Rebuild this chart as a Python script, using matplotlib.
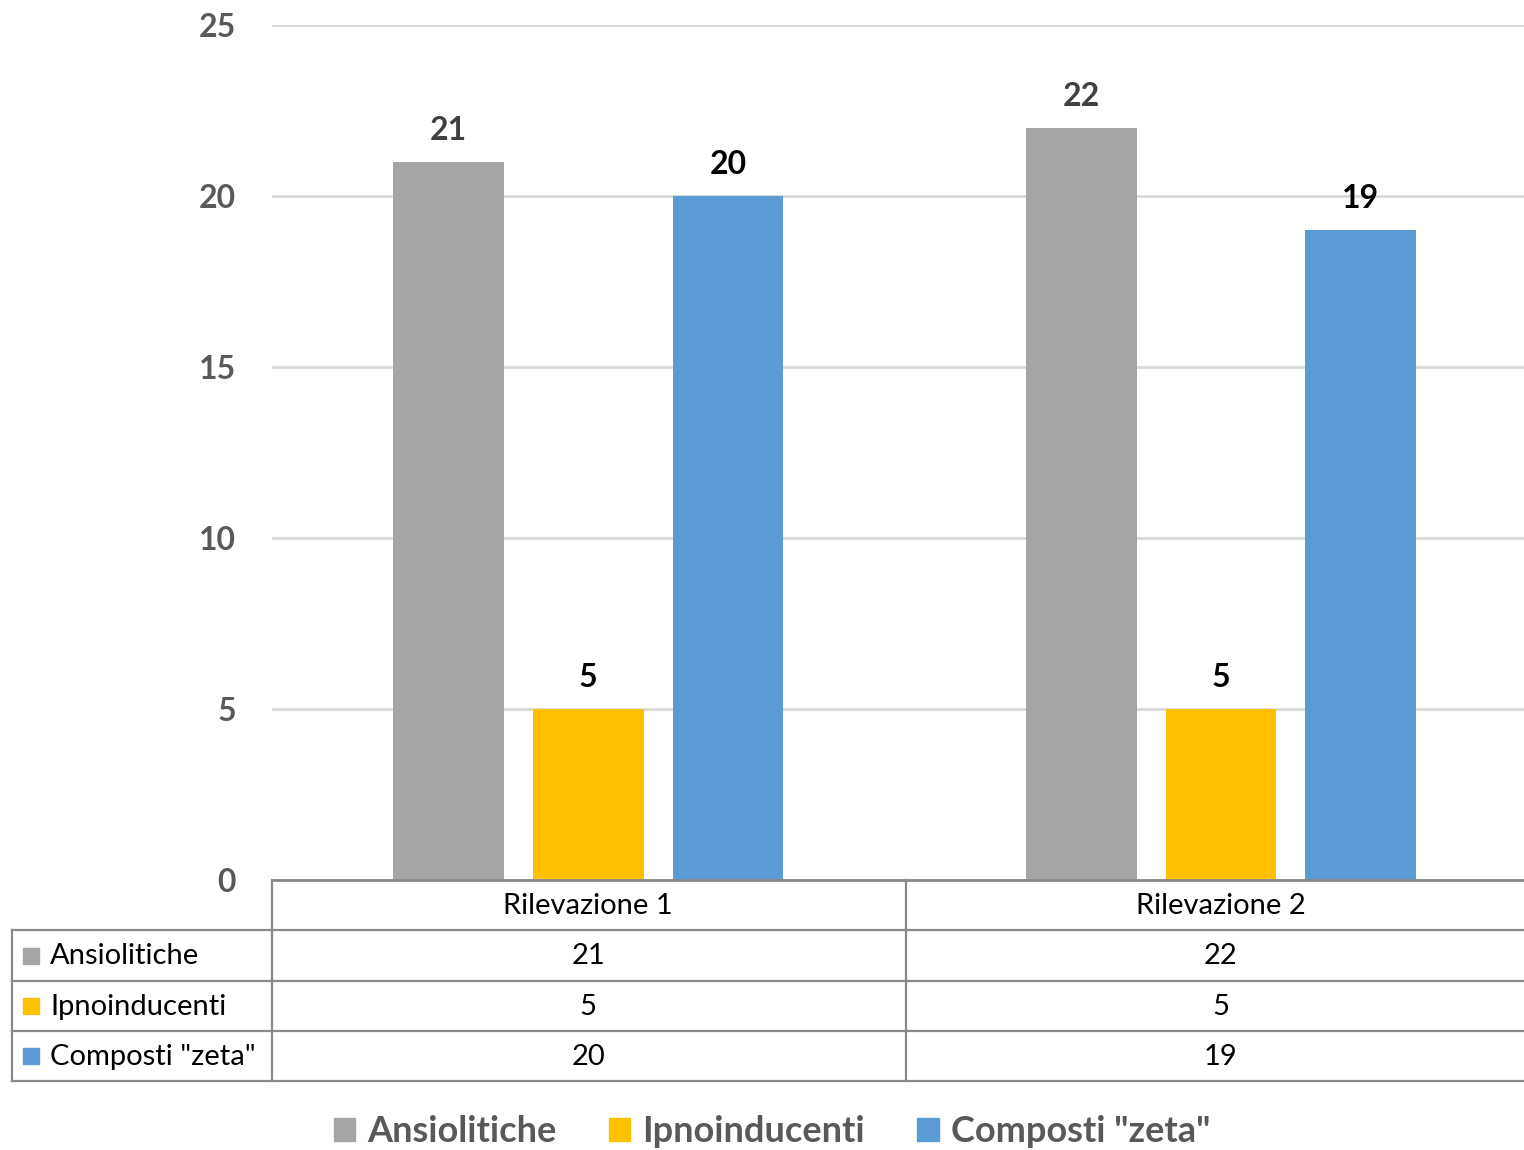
import matplotlib
matplotlib.use("Agg")
import matplotlib.pyplot as plt
from matplotlib.patches import Rectangle
from matplotlib.lines import Line2D
import matplotlib.transforms as mtransforms

plt.rcParams['font.family'] = ['Lato', 'DejaVu Sans']

categories = ["Rilevazione 1", "Rilevazione 2"]
series_names = ["Ansiolitiche", "Ipnoinducenti", 'Composti "zeta"']
ansiolitiche = [21, 22]
ipnoinducenti = [5, 5]
composti_zeta = [20, 19]
series_values = [ansiolitiche, ipnoinducenti, composti_zeta]
colors = ["#a5a5a5", "#ffc000", "#5b9bd5"]
label_colors = ["#404040", "#000000", "#000000"]
yticks = [0, 5, 10, 15, 20, 25]

W, H = 1524, 1150
fig = plt.figure(figsize=(W / 100, H / 100), dpi=100)

def fx(x):
    return x / W

def fy(y):
    return 1 - y / H

ax_left, ax_right, ax_top, ax_bot = 272, 1524, 25, 880
ax = fig.add_axes([fx(ax_left), fy(ax_bot), fx(ax_right - ax_left), fy(ax_top) - fy(ax_bot)])
ax.set_xlim(-0.5, 1.479)
ax.set_ylim(0, 25)

bw = 0.175
off = 0.221
for i, (vals, col, lc) in enumerate(zip(series_values, colors, label_colors)):
    xs = [c + (i - 1) * off for c in range(len(categories))]
    ax.bar(xs, vals, width=bw, color=col, zorder=3)
    for x, v in zip(xs, vals):
        ax.text(x, v + 0.5, str(v), ha="center", va="bottom", fontsize=23,
                fontweight="bold", color=lc, zorder=4)

ax.set_yticks(yticks)
ax.set_yticklabels([str(t) for t in yticks], fontsize=23, fontweight="bold", color="#595959")
ax.tick_params(axis="y", length=0, pad=26)
ax.set_xticks([])
ax.grid(axis="y", color="#d9d9d9", linewidth=2, zorder=0)
for s in ["top", "right", "left"]:
    ax.spines[s].set_visible(False)
ax.spines["bottom"].set_color("#898989")
ax.spines["bottom"].set_linewidth(2)
ax.spines["bottom"].set_zorder(5)

# data table below the axes
tcol = "#898989"
lw = 1.6
col_edges = [272, 906, 1524]
row_edges = [880, 930, 981, 1031, 1081]
left_edge = 12
blend = mtransforms.blended_transform_factory(ax.transData, fig.transFigure)

def hline(y, x0, x1):
    fig.add_artist(Line2D([fx(x0), fx(x1)], [fy(y), fy(y)], color=tcol, lw=lw))

def vline(x, y0, y1):
    fig.add_artist(Line2D([fx(x), fx(x)], [fy(y0), fy(y1)], color=tcol, lw=lw))

for y in row_edges[1:]:
    hline(y, left_edge, W)
vline(left_edge, row_edges[1], row_edges[-1])
vline(col_edges[0], row_edges[0], row_edges[-1])
vline(col_edges[1], row_edges[0], row_edges[-1])

tsize = 21
for j, cat in enumerate(categories):
    cy = (row_edges[0] + row_edges[1]) / 2
    fig.text(j, fy(cy + 1), cat, ha="center", va="center", fontsize=tsize, color="#000000",
             transform=blend)

for i, (name, vals, col) in enumerate(zip(series_names, series_values, colors)):
    cy = (row_edges[i + 1] + row_edges[i + 2]) / 2
    fig.add_artist(Rectangle((fx(23), fy(cy + 8)), fx(16), fy(0) - fy(16), color=col,
                             transform=fig.transFigure))
    fig.text(fx(50), fy(cy + 1), name, ha="left", va="center", fontsize=tsize, color="#000000")
    for j, v in enumerate(vals):
        fig.text(j, fy(cy + 1), str(v), ha="center", va="center", fontsize=tsize, color="#000000",
                 transform=blend)

# legend
handles = [Rectangle((0, 0), 1, 1, color=c) for c in colors]
leg = fig.legend(handles, series_names, loc="center", bbox_to_anchor=(fx(772), fy(1132)),
                 ncol=3, frameon=False, handlelength=0.6, handleheight=0.6,
                 handletextpad=0.33, columnspacing=1.45,
                 prop={"size": 26, "weight": "bold"})
for t in leg.get_texts():
    t.set_color("#595959")

fig.savefig("out.png", dpi=100)
